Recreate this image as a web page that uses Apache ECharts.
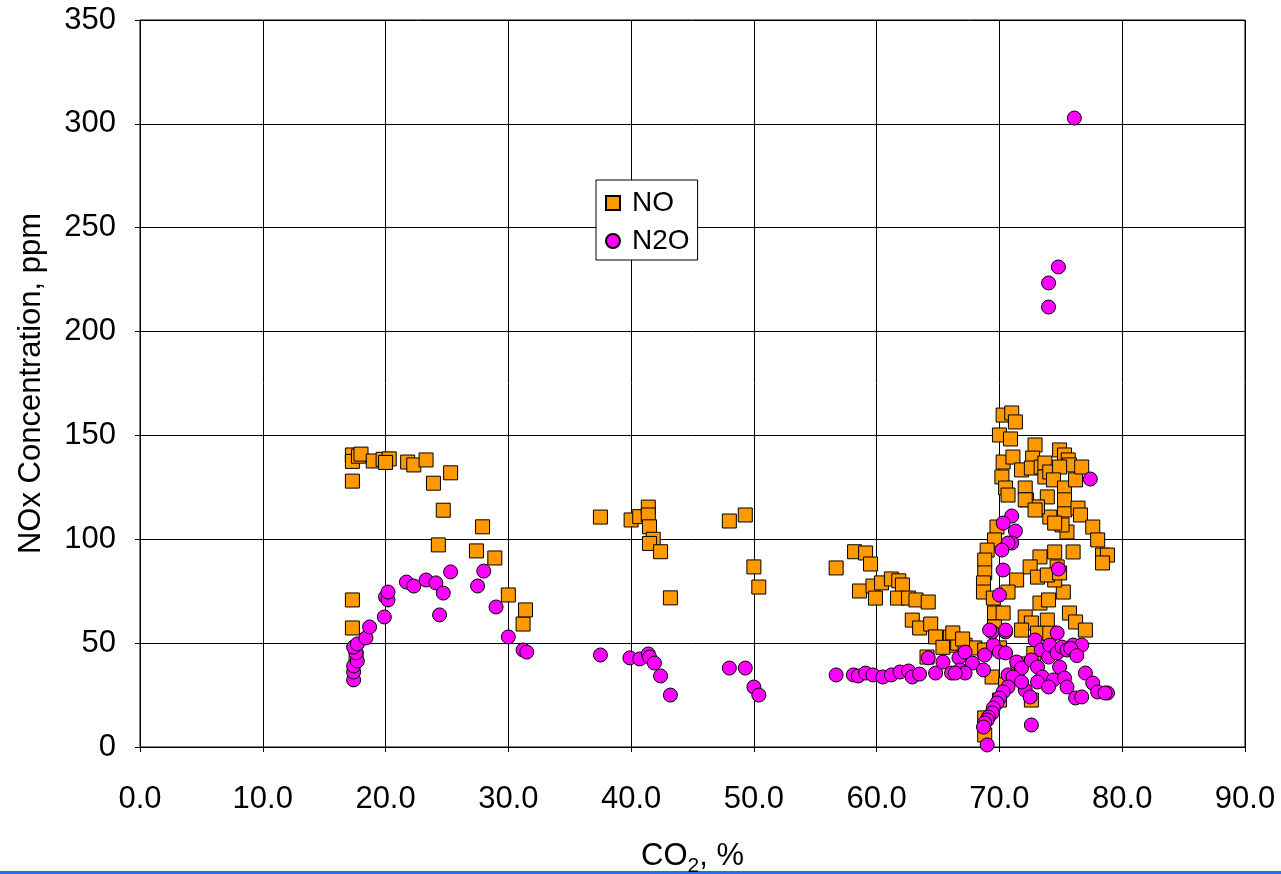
<!DOCTYPE html>
<html>
<head>
<meta charset="utf-8">
<script src="https://cdn.jsdelivr.net/npm/echarts@6/dist/echarts.min.js"></script>
<style>
html,body{margin:0;padding:0;background:#fff;}
#chart{width:1281px;height:874px;}
</style>
</head>
<body>
<div id="chart"></div>
<script>
const xTicks = [0,10,20,30,40,50,60,70,80,90];
const yTicks = [0,50,100,150,200,250,300,350];

// NO (ppm) vs CO2 (%)
const noPoints = [
[17.3,140.6],[17.3,137.5],[17.3,128],[17.8,140],[18.0,141],[19.0,137.7],[19.8,138.5],[20.3,138.7],[20.0,137],
[21.8,137.2],[22.3,135.8],[23.3,138.2],[23.9,127],[24.3,97.3],[24.7,114],[25.3,132],[27.4,94.4],[27.9,106],
[28.9,91],[30.0,73.2],[31.2,59.2],[31.4,66],[17.3,70.8],[17.3,57.3],[17.6,43],
[37.5,110.7],[40.0,109.3],[40.7,110.9],[41.4,115.5],[41.4,111.7],[41.5,106],[41.8,100],[41.5,98],[42.4,94],[43.2,71.8],
[48.0,108.8],[49.3,111.7],[50.0,86.7],[50.4,77.0],
[56.7,86.2],[58.2,94],[59.1,93.4],[59.5,88.1],[58.6,75.1],[59.7,77.5],[59.9,71.7],[60.4,79],[61.2,80.9],[61.8,80],
[62.1,78],[61.7,71.7],[62.6,71.7],[63.2,70.8],[64.2,69.8],[62.9,61.1],[63.5,57.3],[64.4,59.2],[64.8,53],[66.0,53],
[65.4,48],[64.1,43.3],[66.5,49],[66.6,50],[67.2,49],[68.0,47.7],[68.8,46.7],[70.0,47.7],[66.2,54.9],[67.0,52],
[70.3,159.8],[71.0,160.8],[71.3,156.5],[70.0,150.2],[70.9,148.3],[70.3,137.2],[71.1,139.6],[70.2,130],[70.5,124.7],
[70.7,121.3],[71.8,133.4],[72.1,124.7],[72.2,119],[72.9,145.4],[72.7,139.1],[72.6,134.3],[73.4,134.8],[73.7,136.7],
[73.7,130],[74.1,132.4],[74.9,143],[75.3,140.6],[75.6,138.2],[75.7,135.8],[74.9,134.8],[74.4,128.6],[75.3,124.7],
[76.2,128.6],[76.7,134.8],[73.9,120.4],[74.1,110.7],[75.3,114.1],[75.3,119],[76.4,115],[76.6,111.7],[73.1,115.6],
[72.1,119],[72.9,114.1],[75.5,103.5],[75.1,106.9],[74.5,107.8],[77.6,105.9],[78.0,99.7],[78.4,92.4],[78.8,92.4],
[78.4,88.6],[76.0,93.9],[74.5,93.9],[74.7,86.7],[75.2,74.6],[74.5,80.4],[73.3,91.5],[72.5,86.7],[73.1,81.8],
[71.4,80.4],[73.9,82.8],[74.9,83.8],
[69.8,105.9],[69.6,99.7],[69.0,94.8],[68.8,90],[68.8,83.8],[68.7,79],[68.7,74.6],[69.5,71.7],[69.6,64.5],[70.7,74.6],
[70.3,64.5],[69.6,57.8],
[73.3,69.3],[74.0,70.8],[72.1,62.6],[72.6,59.7],[73.9,61.1],[71.8,56.3],[75.7,64.5],[76.2,60.2],[77.0,56.3],[73.1,54.8],
[74.1,54.8],[69.4,33.7],[72.6,22.6],[68.8,14],[68.8,5.8],[70.0,22.6],[71.5,40],[72.8,45],[70.5,30]
];

// N2O (ppm) vs CO2 (%)
const n2oPoints = [
[17.4,32.3],[17.4,36.1],[17.4,39],[17.7,41.4],[17.6,45.3],[17.4,48.1],[17.7,49.6],[18.4,52.5],[18.7,57.8],[19.9,62.6],
[20.0,72.2],[20.2,70.8],[20.2,74.6],[21.7,79.4],[22.3,77.5],[23.3,80.4],[24.1,79],[24.7,74.1],[24.4,63.6],[25.3,84.3],
[27.5,77.5],[28.0,84.7],[29.0,67.4],[30.0,53],[31.2,46.7],[31.5,45.7],
[37.5,44.3],[39.9,42.9],[40.7,42.4],[41.4,44.8],[41.5,43.3],[41.9,40.4],[42.4,34.2],[43.2,25],
[48.0,38],[49.3,38],[50.0,28.9],[50.4,25],
[56.7,34.7],[58.1,34.7],[58.5,34.2],[59.1,35.6],[59.7,34.7],[60.5,33.7],[61.2,34.7],[61.9,36.1],[62.6,36.6],[62.9,33.7],
[63.5,35.1],[64.2,42.9],[64.8,35.6],[65.4,40.9],[66.1,35.6],[66.7,42.9],
[66.8,37.1],[67.2,45.7],[67.8,40.4],[68.7,37.1],[68.8,44.3],[69.5,49.1],[70.5,55.4],[69.4,55.4],[70.0,45.7],[70.5,45.3],
[70.7,34.7],[71.4,40.9],[71.8,38],[72.9,51.5],[72.6,41.9],[73.1,38.5],[73.4,46.7],[74.0,43.3],[74.1,49.1],[74.7,54.9],
[74.7,45.3],[75.1,48.1],[75.5,46.7],[76.0,49.1],[76.7,49.1],[74.9,38.5],[73.5,33.7],[74.4,32.3],[75.3,33.2],[75.5,28.9],
[77.0,35.6],[77.6,30.8],[78.0,26.5],[78.8,26],[78.6,26],[76.2,23.6],[76.7,24.1],[72.1,27.4],[72.5,24.1],[73.1,31.3],
[74.0,28.9],[72.6,10.6],[71.1,33.7],[71.8,31.3],[67.2,35.6],[66.4,35.6],[69.2,56.3],[70.5,56.3],[75.8,47.5],[76.3,44],
[70.7,28.9],[70.3,26.5],[70.0,23.6],[69.8,21.2],[69.5,18.8],[69.4,16.4],[69.1,14.4],[69.0,13],[68.8,11.6],[68.7,9.6],[69.0,1],
[77.4,129],[71.0,111.2],[70.3,107.8],[71.3,104],[71.0,98.2],[70.7,98.2],[70.2,94.8],[70.3,85.2],[70.0,73.2],[74.8,85.7],
[76.1,302.8],[74.8,231.1],[74.0,223.4],[74.0,211.8]
];

const font = 'Liberation Sans, Arial, sans-serif';
const chart = echarts.init(document.getElementById('chart'), null, {renderer:'canvas'});
chart.setOption({
  animation:false,
  backgroundColor:'#fff',
  grid:{left:140, right:36, top:20, bottom:127, containLabel:false, outerBoundsMode:'none', show:true, borderColor:'#000', borderWidth:1},
  xAxis:{
    type:'value', min:xTicks[0], max:xTicks[xTicks.length-1], interval:10,
    name:'{n|CO}{s|2}{n|, %}', nameLocation:'middle', nameGap:89,
    nameTextStyle:{rich:{n:{fontFamily:font,fontSize:31,color:'#000'}, s:{fontFamily:font,fontSize:21,color:'#000',verticalAlign:'bottom',padding:[20,0,0,0]}}},
    axisLine:{lineStyle:{color:'#000',width:1}},
    axisTick:{show:true,inside:false,length:5,lineStyle:{color:'#000'}},
    axisLabel:{fontFamily:font,fontSize:31,color:'#000',margin:37,formatter:v=>v.toFixed(1)},
    splitLine:{show:true,lineStyle:{color:'#000',width:1}}
  },
  yAxis:{
    type:'value', min:yTicks[0], max:yTicks[yTicks.length-1], interval:50,
    name:'NOx Concentration, ppm', nameLocation:'middle', nameGap:93, nameRotate:90,
    nameTextStyle:{fontFamily:font,fontSize:31,color:'#000'},
    axisLine:{show:true,lineStyle:{color:'#000',width:1}},
    axisTick:{show:true,inside:false,length:5,lineStyle:{color:'#000'}},
    axisLabel:{fontFamily:font,fontSize:31,color:'#000',margin:24},
    splitLine:{show:true,lineStyle:{color:'#000',width:1}}
  },
  legend:{
    orient:'vertical', left:596, top:180,
    backgroundColor:'#fff', borderColor:'#000', borderWidth:1,
    padding:[8,8,4,9], itemGap:8, itemWidth:14, itemHeight:14,
    textStyle:{fontFamily:font,fontSize:28,color:'#000',padding:[0,0,0,7],lineHeight:30},
    data:[{name:'NO',icon:'rect'},{name:'N2O',icon:'circle'}]
  },
  series:[
    {name:'NO', type:'scatter', symbol:'rect', symbolSize:14, data:noPoints,
     itemStyle:{color:'#FF9900', borderColor:'#000', borderWidth:1, opacity:1}},
    {name:'N2O', type:'scatter', symbol:'circle', symbolSize:14, data:n2oPoints,
     itemStyle:{color:'#FF00FF', borderColor:'#000', borderWidth:1, opacity:1}}
  ],
  graphic:[{type:'rect', left:0, top:871, shape:{width:1281,height:3}, style:{fill:'#1a73e8'}}]
});
</script>
</body>
</html>
